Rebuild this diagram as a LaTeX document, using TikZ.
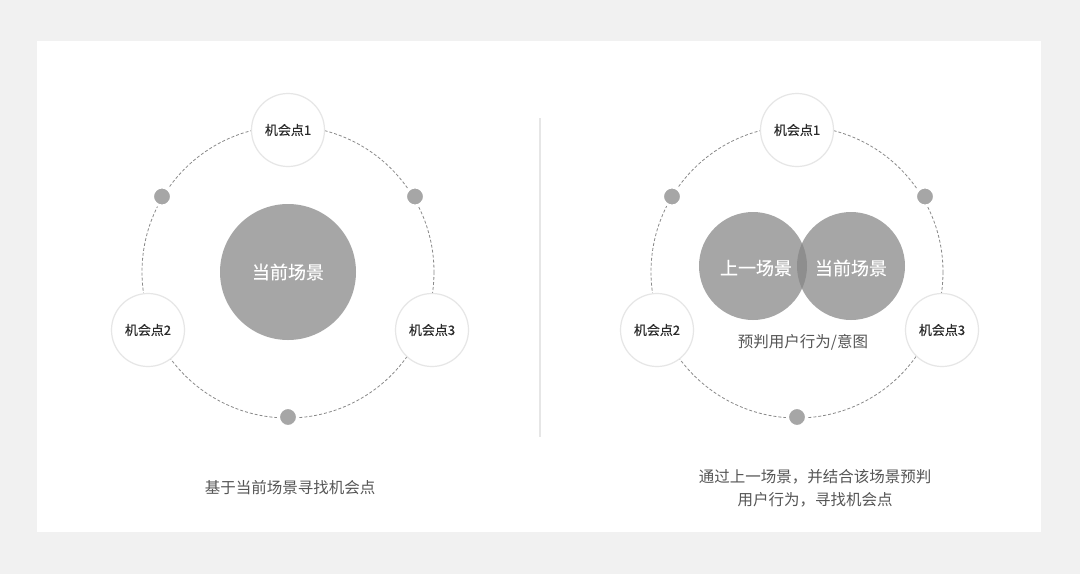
\documentclass[tikz,border=0pt]{standalone}
\usepackage{fontspec}
\setmainfont{Noto Sans CJK SC}
\newfontfamily\heavier{Noto Sans CJK SC}[FakeBold=0.4]
\usetikzlibrary{positioning}

\definecolor{bggray}{HTML}{F1F1F1}
\definecolor{ballgray}{HTML}{A6A6A6}
\definecolor{overlapgray}{HTML}{8E8E8E}
\definecolor{ringgray}{HTML}{8A8A8A}
\definecolor{edgegray}{HTML}{E6E6E6}
\definecolor{textdark}{HTML}{2B2B2B}
\definecolor{textmid}{HTML}{555555}

\begin{document}
\begin{tikzpicture}[x=1pt,y=-1pt,
    chance/.style={circle,fill=white,draw=edgegray,line width=1.2pt,
      minimum size=73pt,inner sep=0pt,text=textdark,
      font=\heavier\fontsize{13}{15}\selectfont},
    dotball/.style={circle,fill=ballgray,draw=white,line width=3pt,
      minimum size=19pt,inner sep=0pt},
    scene/.style={circle,fill=ballgray,minimum size=#1,inner sep=0pt,
      text=white,font=\heavier\fontsize{18}{20}\selectfont},
    ring/.style={draw=ringgray,line width=0.8pt,dash pattern=on 3pt off 2pt},
    caption/.style={text=textmid,align=center,
      font=\fontsize{15.5}{23}\selectfont}]
          \useasboundingbox (0,0) rectangle (1080,574);
          \fill[bggray] (0,0) rectangle (1080,574);
          \fill[white] (37,41) rectangle (1041,532);

          % left: current scene
          \coordinate (lc) at (288,272);
          \draw[ring] (lc) circle[radius=146];

          \draw (288,272) node[scene=136pt] (now) {当前场景};

          \draw (288,130) node[chance] (lp1) {机会点1};

          \draw (148,330) node[chance] (lp2) {机会点2};

          \draw (432,330) node[chance] (lp3) {机会点3};

          \draw (162,196.5) node[dotball] (ld1) {};
          \draw (415,196.5) node[dotball] (ld2) {};
          \draw (288,417) node[dotball] (ld3) {};

          \draw (290,488) node[caption] (lcap) {基于当前场景寻找机会点};

          % divider
          \draw (540,118) coordinate (dtop);
          \draw (540,437) coordinate (dbot);
          \draw[edgegray,line width=1.6pt] (dtop) -- (dbot);

          % right: previous + current scene
          \coordinate (rc) at (797,272);
          \draw[ring] (rc) circle[radius=146];

          \draw (753,266) node[scene=108pt] (prev) {};

          \draw (851,266) node[scene=108pt] (cur) {};

          \begin{scope}
            \clip (prev.center) circle[radius=54];
            \fill[overlapgray] (cur.center) circle[radius=54];
          \end{scope}

          \draw (prev.center) node[text=white,font=\heavier\fontsize{18}{20}\selectfont,xshift=3pt,yshift=-2pt] (prevtxt) {上一场景};

          \draw (cur.center) node[text=white,font=\heavier\fontsize{18}{20}\selectfont,yshift=-2pt] (curtxt) {当前场景};

          \draw (803,342) node[caption] (guess) {预判用户行为/意图};

          \draw (797,130) node[chance] (rp1) {机会点1};

          \draw (657,330) node[chance] (rp2) {机会点2};

          \draw (942,330) node[chance] (rp3) {机会点3};

          \draw (672,196.5) node[dotball] (rd1) {};
          \draw (925,196.5) node[dotball] (rd2) {};
          \draw (797,417) node[dotball] (rd3) {};

          \draw (815,488) node[caption] (rcap)
          {通过上一场景，并结合该场景预判\\用户行为，寻找机会点};
        \end{tikzpicture}
\end{document}
